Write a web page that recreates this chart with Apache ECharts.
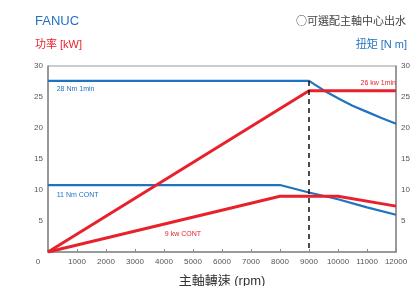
<!DOCTYPE html>
<html>
<head>
<meta charset="utf-8">
<script src="https://cdn.jsdelivr.net/npm/echarts@6/dist/echarts.min.js"></script>
<style>
  html, body { margin: 0; padding: 0; background: #fff; }
  #chart { width: 413px; height: 286px; }
</style>
</head>
<body>
<div id="chart"></div>
<script>
// 轉速 (rpm) / 扭矩 (N m) / 功率 (kW)
var speedTorque1min = [0, 9000, 9500, 10000, 10500, 11000, 11500, 12000];
var torque1min = [27.6, 27.6, 26.1, 24.8, 23.6, 22.6, 21.6, 20.7];
var speedTorqueCont = [0, 8000, 9000, 10000, 11000, 12000];
var torqueCont = [10.8, 10.8, 9.6, 8.5, 7.2, 6.0];
var speedPower1min = [0, 9000, 12000];
var power1min = [0, 26, 26];
var speedPowerCont = [0, 8000, 10000, 12000];
var powerCont = [0, 9, 9, 7.4];
var baseSpeed = 9000;

var blue = '#1f73bf';
var red = '#e8222c';
var font = '"Liberation Sans", "Noto Sans CJK TC", sans-serif';
var cjkFont = '"Noto Sans CJK TC", sans-serif';

function pairs(xs, ys) {
    return xs.map(function (x, i) { return [x, ys[i]]; });
}

function tag(coord, text, color, align) {
    return {
        coord: coord,
        symbol: 'circle',
        symbolSize: 0,
        label: {
            show: true,
            position: 'inside',
            align: align,
            verticalAlign: 'middle',
            color: color,
            fontSize: 7,
            fontFamily: font,
            formatter: text
        }
    };
}

var axisLabelStyle = {
    color: '#555',
    fontSize: 8,
    fontFamily: font
};

var option = {
    animation: false,
    backgroundColor: '#fff',
    title: [
        { text: 'FANUC', left: 30, top: 10, textStyle: { color: blue, fontSize: 13, fontWeight: 'normal', fontFamily: font } },
        { text: '功率 [kW]', left: 30, top: 34, textStyle: { color: red, fontSize: 11, fontWeight: 'normal', fontFamily: font } },
        { text: '○可選配主軸中心出水', right: 2, top: 10, textStyle: { color: '#444', fontSize: 11, fontWeight: 'normal', fontFamily: cjkFont } },
        { text: '扭矩 [N m]', right: 1, top: 34, textStyle: { color: blue, fontSize: 11, fontWeight: 'normal', fontFamily: font } }
    ],
    grid: {
        left: 48,
        right: 17,
        top: 66,
        bottom: 34,
        outerBoundsMode: 'none',
        show: true,
        borderColor: '#999',
        borderWidth: 1
    },
    xAxis: {
        type: 'value',
        min: 0,
        max: 12000,
        interval: 1000,
        name: '主軸轉速 (rpm)',
        nameLocation: 'middle',
        nameGap: 23,
        nameTextStyle: { color: '#333', fontSize: 13, fontFamily: font },
        axisLine: { show: true, lineStyle: { color: '#888', width: 1.5 } },
        axisTick: { show: true, inside: true, length: 3, lineStyle: { color: '#888' } },
        splitLine: { show: false },
        axisLabel: {
            color: '#555',
            fontSize: 8,
            fontFamily: font,
            margin: 6,
            formatter: function (v) {
                return v === 0 ? '{z|0}' : String(v);
            },
            rich: {
                z: { color: '#555', fontSize: 8, fontFamily: font, padding: [0, 20, 0, 0] }
            }
        }
    },
    yAxis: [{
        type: 'value',
        min: 0,
        max: 30,
        interval: 5,
        position: 'left',
        axisLine: { show: true, lineStyle: { color: '#888', width: 1.5 } },
        axisTick: { show: false },
        splitLine: { show: false },
        axisLabel: Object.assign({ showMinLabel: false, margin: 5 }, axisLabelStyle)
    }, {
        type: 'value',
        min: 0,
        max: 30,
        interval: 5,
        position: 'right',
        axisLine: { show: true, lineStyle: { color: '#888', width: 1.5 } },
        axisTick: { show: false },
        splitLine: { show: false },
        axisLabel: Object.assign({ showMinLabel: false, margin: 5 }, axisLabelStyle)
    }],
    series: [{
        name: '28 Nm 1min',
        type: 'line',
        yAxisIndex: 1,
        showSymbol: false,
        smooth: false,
        lineStyle: { color: blue, width: 2.2 },
        itemStyle: { color: blue },
        data: pairs(speedTorque1min, torque1min),
        markPoint: { data: [tag([300, 26.3], '28 Nm 1min', blue, 'left')] },
        markLine: {
            silent: true,
            symbol: 'none',
            label: { show: false },
            lineStyle: { color: '#111', type: [5, 4], width: 1.5 },
            data: [[{ coord: [baseSpeed, torque1min[1]] }, { coord: [baseSpeed, 0] }]]
        }
    }, {
        name: '11 Nm CONT',
        type: 'line',
        yAxisIndex: 1,
        showSymbol: false,
        lineStyle: { color: blue, width: 2.2 },
        itemStyle: { color: blue },
        data: pairs(speedTorqueCont, torqueCont),
        markPoint: { data: [tag([300, 9.2], '11 Nm CONT', blue, 'left')] }
    }, {
        name: '26 kw 1min',
        type: 'line',
        yAxisIndex: 0,
        showSymbol: false,
        lineStyle: { color: red, width: 3 },
        itemStyle: { color: red },
        data: pairs(speedPower1min, power1min),
        markPoint: { data: [tag([12000, 27.3], '26 kw 1min', red, 'right')] }
    }, {
        name: '9 kw CONT',
        type: 'line',
        yAxisIndex: 0,
        showSymbol: false,
        lineStyle: { color: red, width: 3 },
        itemStyle: { color: red },
        data: pairs(speedPowerCont, powerCont),
        markPoint: { data: [tag([4030, 2.9], '9 kw CONT', red, 'left')] }
    }]
};

var myChart = echarts.init(document.getElementById('chart'));
myChart.setOption(option);
</script>
</body>
</html>
